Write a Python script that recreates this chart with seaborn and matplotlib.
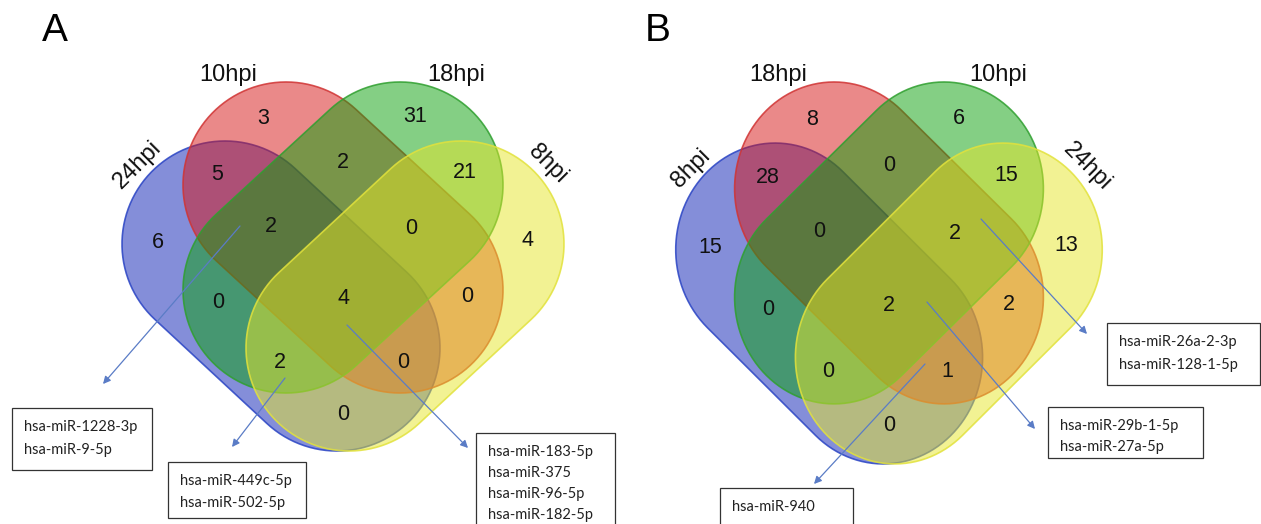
import numpy as np
import matplotlib
matplotlib.use("Agg")
import matplotlib.pyplot as plt
from matplotlib.patches import Polygon, Rectangle
import seaborn as sns

# ---------------- data ----------------
panel_letters = ["A", "B"]
set_names_A = ["24hpi", "10hpi", "18hpi", "8hpi"]   # outer-left, inner-left, inner-right, outer-right
set_names_B = ["8hpi", "18hpi", "10hpi", "24hpi"]
region_keys = ["L", "IL", "IR", "R", "L&IL", "IL&IR", "IR&R", "L&IL&IR", "IL&IR&R",
               "L&IR", "ALL", "IL&R", "L&IR&R", "L&IL&R", "L&R"]
counts_A = [6, 3, 31, 4, 5, 2, 21, 2, 0, 0, 4, 0, 2, 0, 0]
counts_B = [15, 8, 6, 13, 28, 0, 15, 0, 2, 0, 2, 2, 0, 1, 0]
mirna_A = [["hsa-miR-1228-3p", "hsa-miR-9-5p"],
           ["hsa-miR-449c-5p", "hsa-miR-502-5p"],
           ["hsa-miR-183-5p", "hsa-miR-375", "hsa-miR-96-5p", "hsa-miR-182-5p"]]
mirna_B = [["hsa-miR-26a-2-3p", "hsa-miR-128-1-5p"],
           ["hsa-miR-29b-1-5p", "hsa-miR-27a-5p"],
           ["hsa-miR-940"]]

# ---------------- layout / style ----------------
sns.set_style("white")
plt.rcParams['font.family'] = ['Liberation Sans', 'DejaVu Sans']

W, H = 1261, 524
fig = plt.figure(figsize=(W / 100, H / 100), dpi=100)
ax = fig.add_axes([0, 0, 1, 1])
ax.set_xlim(0, W)
ax.set_ylim(H, 0)
ax.axis("off")

R = 103
# capsule end centres relative to panel centre (dx, y)
shapes = [((-118, 244), (-6, 348)),   # outer-left
          ((-57, 185), (57, 290)),     # inner-left
          ((57, 185), (-57, 290)),     # inner-right
          ((118, 244), (6, 348))]      # outer-right
face_cols = sns.color_palette([(0.04, 0.12, 0.71), (0.84, 0.08, 0.08),
                               (0.04, 0.63, 0.04), (0.90, 0.90, 0.16)])
edge_cols = ["#2a44c4", "#d03434", "#2f9f2f", "#e2e23c"]
label_pos = {"L": (-185, 242), "IL": (-80, 118), "IR": (72, 117), "R": (184, 240),
             "L&IL": (-126, 174), "IL&IR": (0, 163), "IR&R": (122, 172),
             "L&IL&IR": (-72, 226), "IL&IR&R": (68, 228), "L&IR": (-125, 302),
             "ALL": (0, 298), "IL&R": (124, 297), "L&IR&R": (-63, 362),
             "L&IL&R": (60, 362), "L&R": (0, 414)}
name_pos = [(-205, 165, 45), (-115, 75, 0), (113, 75, 0), (205, 164, -45)]

panels = [
    dict(cx=343, sx=1.0, sy=1.0, letter=(55, 31), names=set_names_A, counts=counts_A,
         mirna=mirna_A,
         boxes=[(12, 408, 140, 62, 23), (168, 462, 138, 56, 22.5), (476, 433, 139, 95, 21)],
         arrows=[((240, 226), (103, 384)), ((285, 378), (232, 447)), ((347, 325), (468, 448))]),
    dict(cx=889, sx=0.965, sy=1.035, letter=(658, 31), names=set_names_B, counts=counts_B,
         mirna=mirna_B,
         boxes=[(1107, 323, 153, 62, 22.5), (1048, 407, 155, 51, 21), (720, 488, 133, 40, 22)],
         arrows=[((981, 219), (1087, 334)), ((927, 302), (1035, 429)), ((925, 364), (814, 484))]),
]


def tx(p, x, y):
    return p["cx"] + x * p["sx"], 82 + (y - 82) * p["sy"]


def capsule(c1, c2, r, n=60):
    c1, c2 = np.asarray(c1, float), np.asarray(c2, float)
    d = c2 - c1
    th = np.arctan2(d[1], d[0])
    a2 = np.linspace(th - np.pi / 2, th + np.pi / 2, n)
    a1 = np.linspace(th + np.pi / 2, th + 3 * np.pi / 2, n)
    pts2 = np.c_[c2[0] + r * np.cos(a2), c2[1] + r * np.sin(a2)]
    pts1 = np.c_[c1[0] + r * np.cos(a1), c1[1] + r * np.sin(a1)]
    return np.vstack([pts2, pts1])


for p in panels:
    for (c1, c2), fc, ec in zip(shapes, face_cols, edge_cols):
        pts = capsule(c1, c2, R)
        pts = np.array([tx(p, x, y) for x, y in pts])
        ax.add_patch(Polygon(pts, closed=True, facecolor=(*fc, 0.5), edgecolor="none"))
        ax.add_patch(Polygon(pts, closed=True, facecolor="none", edgecolor=ec, lw=1.2, alpha=0.85))
    for key, val in zip(region_keys, p["counts"]):
        x, y = tx(p, *label_pos[key])
        ax.text(x, y, str(val), ha="center", va="center", fontsize=15.5, color="#111111")
    for name, (dx, y, rot) in zip(p["names"], name_pos):
        x, yy = tx(p, dx, y)
        ax.text(x, yy, name, ha="center", va="center", fontsize=17, rotation=rot,
                rotation_mode="anchor", color="#111111")
    for (bx, by, bw, bh, sp), lines in zip(p["boxes"], p["mirna"]):
        ax.add_patch(Rectangle((bx, by), bw, bh, facecolor="white", edgecolor="#333333", lw=0.9))
        for i, ln in enumerate(lines):
            ax.text(bx + 12, by + 19 + i * sp, ln, ha="left", va="center", fontsize=10.5,
                    family=["Lato", "DejaVu Sans"], color="#222222")
    for start, end in p["arrows"]:
        ax.annotate("", xy=end, xytext=start,
                    arrowprops=dict(arrowstyle="-|>", color="#5a7cc6", lw=0.9,
                                    mutation_scale=11, shrinkA=0, shrinkB=0))

for p, letter in zip(panels, panel_letters):
    ax.text(*p["letter"], letter, ha="center", va="center", fontsize=28, color="black")

fig.savefig("out.png", dpi=100)
